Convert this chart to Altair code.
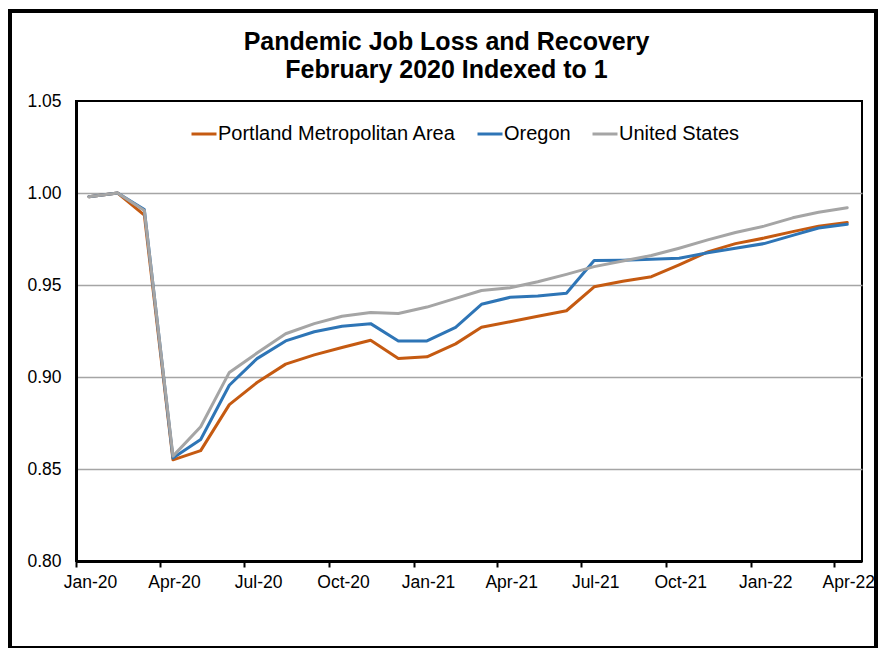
import altair as alt
import pandas as pd

# ---------------- data ----------------
MONTHS = [
    "2020-01-15", "2020-02-15", "2020-03-15", "2020-04-15", "2020-05-15", "2020-06-15",
    "2020-07-15", "2020-08-15", "2020-09-15", "2020-10-15", "2020-11-15", "2020-12-15",
    "2021-01-15", "2021-02-15", "2021-03-15", "2021-04-15", "2021-05-15", "2021-06-15",
    "2021-07-15", "2021-08-15", "2021-09-15", "2021-10-15", "2021-11-15", "2021-12-15",
    "2022-01-15", "2022-02-15", "2022-03-15", "2022-04-15",
]
PORTLAND = [
    0.998, 1.000, 0.988, 0.855, 0.860, 0.885,
    0.897, 0.907, 0.912, 0.916, 0.920, 0.910,
    0.911, 0.918, 0.927, 0.930, 0.933, 0.936,
    0.949, 0.952, 0.9545, 0.961, 0.968, 0.9725,
    0.9755, 0.979, 0.982, 0.984,
]
OREGON = [
    0.998, 1.000, 0.991, 0.856, 0.866, 0.8955,
    0.910, 0.9196, 0.9246, 0.9276, 0.929, 0.9196,
    0.9196, 0.927, 0.9395, 0.9433, 0.944, 0.9455,
    0.9633, 0.9635, 0.964, 0.9645, 0.9675, 0.970,
    0.9725, 0.977, 0.981, 0.983,
]
UNITED_STATES = [
    0.998, 1.000, 0.9905, 0.857, 0.873, 0.9025,
    0.913, 0.9235, 0.929, 0.933, 0.935, 0.9345,
    0.938, 0.9427, 0.947, 0.9485, 0.9518, 0.9558,
    0.960, 0.963, 0.966, 0.970, 0.9745, 0.9785,
    0.982, 0.9865, 0.9895, 0.992,
]
SERIES = ["Portland Metropolitan Area", "Oregon", "United States"]
COLORS = ["#C55A11", "#2E75B6", "#A5A5A5"]
TITLE_LINES = ["Pandemic Job Loss and Recovery", "February 2020 Indexed to 1"]
Y_TICKS = [0.80, 0.85, 0.90, 0.95, 1.00, 1.05]
X_TICKS = [(2020, 1), (2020, 4), (2020, 7), (2020, 10), (2021, 1), (2021, 4),
           (2021, 7), (2021, 10), (2022, 1), (2022, 4)]
X_DOMAIN = [(2020, 1), (2022, 5)]

rows = []
for name, vals in zip(SERIES, [PORTLAND, OREGON, UNITED_STATES]):
    for m, v in zip(MONTHS, vals):
        rows.append({"month": m, "value": v, "series": name})
df = pd.DataFrame(rows)

FONT = "Liberation Sans"
W, H = 786, 460


def dt(ym):
    return alt.DateTime(year=ym[0], month=ym[1], date=1, utc=True)


x_scale = alt.Scale(type="utc", domain=[dt(X_DOMAIN[0]), dt(X_DOMAIN[1])], nice=False)
y_scale = alt.Scale(domain=[Y_TICKS[0], Y_TICKS[-1]], nice=False, zero=False)

lines = alt.Chart(df).mark_line(strokeWidth=3, strokeJoin="round", strokeCap="round").encode(
    x=alt.X(
        "month:T",
        scale=x_scale,
        axis=alt.Axis(
            values=[dt(t) for t in X_TICKS],
            labelExpr="utcFormat(datum.value, '%b-%y')",
            labelOffset=14,
            labelFlush=False,
            labelOverlap=False,
            tickSize=6,
            tickWidth=2,
            tickColor="black",
            domainColor="black",
            domainWidth=3,
            labelPadding=6,
            labelFont=FONT,
            labelFontSize=17.5,
            labelColor="black",
            grid=False,
            title=None,
        ),
    ),
    y=alt.Y(
        "value:Q",
        scale=y_scale,
        axis=alt.Axis(
            values=Y_TICKS,
            format=".2f",
            ticks=False,
            tickSize=0,
            labelPadding=15,
            labelFont=FONT,
            labelFontSize=17.5,
            labelColor="black",
            domainColor="black",
            domainWidth=3,
            grid=True,
            gridColor={
                "condition": {"test": "datum.value > 1.04 || datum.value < 0.81", "value": "transparent"},
                "value": "#A5A5A5",
            },
            gridWidth=1.5,
            title=None,
        ),
    ),
    color=alt.Color(
        "series:N",
        scale=alt.Scale(domain=SERIES, range=COLORS),
        legend=alt.Legend(
            title=None,
            orient="none",
            legendX=114,
            legendY=19,
            direction="horizontal",
            symbolType="stroke",
            symbolSize=625,
            symbolStrokeWidth=3,
            labelFont=FONT,
            labelFontSize=20,
            labelColor="black",
            labelOffset=0,
            columnPadding=15,
            padding=0,
            labelLimit=500,
        ),
    ),
)

# outer chart border (decoration)
frame = alt.Chart(pd.DataFrame({"k": [0]})).mark_rect(
    fillOpacity=0, stroke="black", strokeWidth=4
).encode(
    x=alt.value(-66), x2=alt.value(800), y=alt.value(-90), y2=alt.value(547)
)

title1 = alt.Chart(pd.DataFrame({"t": [TITLE_LINES[0]]})).mark_text(
    font=FONT, fontSize=25, fontWeight="bold", align="center", baseline="alphabetic", color="black"
).encode(text="t:N", x=alt.value(370.5), y=alt.value(-51))

title2 = alt.Chart(pd.DataFrame({"t": [TITLE_LINES[1]]})).mark_text(
    font=FONT, fontSize=25, fontWeight="bold", align="center", baseline="alphabetic", color="black"
).encode(text="t:N", x=alt.value(370.5), y=alt.value(-23))

chart = alt.layer(frame, lines, title1, title2).properties(
    width=W,
    height=H,
    autosize=alt.AutoSizeParams(type="none"),
    padding={"left": 68, "top": 93, "right": 16, "bottom": 87},
).configure_view(stroke="black", strokeWidth=2)

chart.save("out.html", embed_options={"renderer": "svg", "actions": False})
